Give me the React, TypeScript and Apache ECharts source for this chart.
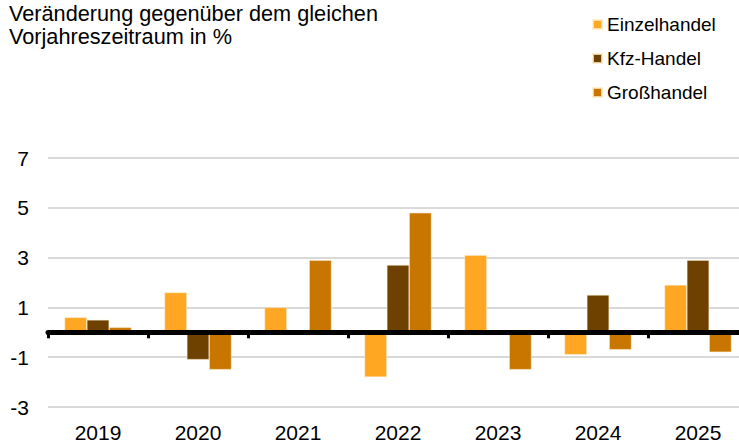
import React, { useEffect, useRef } from "react";
import * as echarts from "echarts";

const categories = ["2019", "2020", "2021", "2022", "2023", "2024", "2025"];
const einzelhandel = [0.6, 1.6, 1.0, -1.8, 3.1, -0.9, 1.9];
const kfzHandel = [0.5, -1.1, 0, 2.7, 0, 1.5, 2.9];
const grosshandel = [0.2, -1.5, 2.9, 4.8, -1.5, -0.7, -0.8];
const titleLines = ["Veränderung gegenüber dem gleichen", "Vorjahreszeitraum in %"];
const seriesNames = ["Einzelhandel", "Kfz-Handel", "Großhandel"];
const colors = ["#FFA623", "#6E4100", "#C97600"];

const FONT = "'Liberation Sans', Arial, sans-serif";

export default function App() {
  const ref = useRef<HTMLDivElement>(null);
  useEffect(() => {
    const chart = echarts.init(ref.current!, null, { renderer: "svg" });
    const values = [einzelhandel, kfzHandel, grosshandel];
    chart.setOption({
      animation: false,
      backgroundColor: "#ffffff",
      textStyle: { fontFamily: FONT },
      title: {
        text: titleLines.join("\n"),
        left: 4,
        top: -3,
        textStyle: {
          fontFamily: FONT,
          fontSize: 21.7,
          fontWeight: "normal",
          color: "#000",
          lineHeight: 23,
        },
      },
      legend: {
        orient: "vertical",
        left: 587,
        top: 10,
        itemWidth: 9,
        itemHeight: 9,
        itemGap: 15,
        icon: "rect",
        data: seriesNames,
        textStyle: { fontFamily: FONT, fontSize: 19, color: "#000" },
      },
      grid: { left: 48, right: 0, top: 158, bottom: 36, containLabel: false },
      xAxis: [
        {
          type: "category",
          data: categories,
          position: "bottom",
          axisLine: { show: false, onZero: false },
          axisTick: { show: false },
          axisLabel: { fontFamily: FONT, fontSize: 21, color: "#000", margin: 15 },
        },
        {
          type: "category",
          data: categories,
          position: "bottom",
          axisLine: { show: true, onZero: true, lineStyle: { color: "#000", width: 5 } },
          axisTick: { show: true, length: 6, lineStyle: { color: "#000", width: 3 } },
          axisLabel: { show: false },
          z: 10,
        },
      ],
      yAxis: {
        type: "value",
        min: -3,
        max: 7,
        interval: 2,
        axisLine: { show: false },
        axisTick: { show: false },
        axisLabel: { fontFamily: FONT, fontSize: 21, color: "#000", margin: 19 },
        splitLine: { lineStyle: { color: "#d9d9d9", width: 2 } },
      },
      series: seriesNames.map((name, i) => ({
        name,
        type: "bar",
        data: values[i],
        xAxisIndex: 0,
        barGap: "0%",
        barCategoryGap: "33%",
        itemStyle: { color: colors[i], borderColor: "rgba(255,235,200,0.8)", borderWidth: 0.6 },
      })),
    });
    return () => chart.dispose();
  }, []);
  return (
    <div
      style={{ position: "fixed", left: 0, top: 0, width: 739, height: 443, overflow: "hidden", background: "#fff" }}
    >
      <div ref={ref} style={{ width: 748, height: 443 }} />
    </div>
  );
}
